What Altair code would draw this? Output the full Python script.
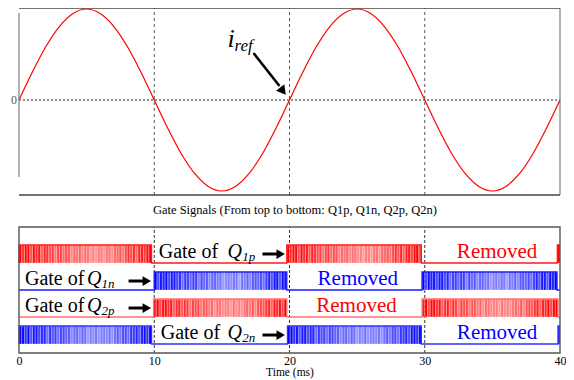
import altair as alt
import pandas as pd

# ---------------- data ----------------
# Top panel: reference current i_ref (normalised), one sample per ms
t_ms = list(range(41))
i_ref = [0.00, 0.31, 0.59, 0.81, 0.95, 1.00, 0.95, 0.81, 0.59, 0.31,
         0.00, -0.31, -0.59, -0.81, -0.95, -1.00, -0.95, -0.81, -0.59, -0.31,
         0.00, 0.31, 0.59, 0.81, 0.95, 1.00, 0.95, 0.81, 0.59, 0.31,
         0.00, -0.31, -0.59, -0.81, -0.95, -1.00, -0.95, -0.81, -0.59, -0.31, 0.00]

grid_x = [10, 20, 30]
tick_values = [0, 10, 20, 30, 40]

# Bottom panel: gate signals (top to bottom: Q1p, Q1n, Q2p, Q2n)
gate_names = ["Q1p", "Q1n", "Q2p", "Q2n"]
gate_rows = [3, 2, 1, 0]
gate_fill = ["#ff0000", "#0000ff", "#ff0000", "#0000ff"]
gate_edge = ["#ff1a1a", "#1a1aff", "#ff7070", "#3030ff"]
gate_on_start = [[0.0, 19.8, 39.8], [10.0, 29.8], [9.95, 29.8], [0.0, 19.85, 39.85]]
gate_on_end = [[9.8, 29.75, 40.0], [19.8, 39.78], [19.8, 39.85], [9.8, 29.75, 40.0]]
# darkness of the PWM texture across a 10 ms conducting block (25 slices)
pwm_shade = [1.0, 0.95, 0.95, 0.9, 0.85, 0.8, 0.75, 0.75, 0.7, 0.65, 0.6, 0.6, 0.55,
             0.5, 0.55, 0.5, 0.55, 0.6, 0.65, 0.7, 0.8, 0.85, 0.9, 0.95, 1.0]
# irregular stripe-to-stripe variation seen in the pulse texture
stripe_var = [1.0, 0.8, 1.0, 1.0, 0.7, 1.0, 0.9, 1.0, 0.75, 1.0, 1.0, 0.85, 1.0, 0.7, 0.95]

label_gate_x = [10.33, 0.44, 0.44, 10.48]
label_q_x = [15.42, 5.02, 5.02, 15.42]
label_sub_x = [16.5, 6.1, 6.1, 16.5]
label_sub = ["1p", "1n", "2p", "2n"]
arrow_x0 = [18.0, 8.1, 8.1, 18.0]
arrow_tip = [19.35, 9.45, 9.45, 19.35]
removed_x = [35.35, 25.05, 24.95, 35.35]

title_text = "Gate Signals (From top to bottom: Q1p, Q1n, Q2p, Q2n)"

# ---------------- scales ----------------
TOP_LO, TOP_HI = -1.044, 1.011
BOT_LO, BOT_HI = -0.333, 4.333
BAR_H = 0.667
SERIF = "Liberation Serif"

xaxis = alt.Axis(values=tick_values, format="d", ticks=False, domain=False, grid=False,
                 labelFlush=False, labelFont=SERIF, labelFontSize=12, labelColor="black",
                 labelPadding=2, title="Time (ms)", titleFont=SERIF, titleFontSize=11.5,
                 titleFontWeight="normal", titleColor="black", titlePadding=0.5)
xs = alt.Scale(domain=[0, 40], nice=False, zero=False)


def X(f):
    return alt.X(f, type="quantitative", scale=xs, axis=xaxis)


ys_top = alt.Scale(domain=[TOP_LO, TOP_HI], range=[187, 0], nice=False, zero=False)
ys_bot = alt.Scale(domain=[BOT_LO, BOT_HI], range=[345, 219], nice=False, zero=False)


def YT(f):
    return alt.Y(f, type="quantitative", scale=ys_top, axis=None)


def YB(f):
    return alt.Y(f, type="quantitative", scale=ys_bot, axis=None)


# ---------------- top panel ----------------
sine_df = pd.DataFrame({"t": t_ms, "i": i_ref})
sine = alt.Chart(sine_df).mark_line(color="#ff0000", strokeWidth=1.2, interpolate="monotone").encode(
    x=X("t"), y=YT("i"))

vgrid_top = alt.Chart(pd.DataFrame({"x": grid_x, "y0": [TOP_LO] * 3, "y1": [TOP_HI] * 3})).mark_rule(
    color="#555555", strokeWidth=1, strokeDash=[3, 3]).encode(x=X("x"), y=YT("y0"), y2="y1")

zero_line = alt.Chart(pd.DataFrame({"x0": [0], "x1": [40], "y": [0]})).mark_rule(
    color="#222222", strokeWidth=1.1, strokeDash=[2, 2]).encode(x=X("x0"), x2="x1", y=YT("y"))

hborders = alt.Chart(pd.DataFrame({"x0": [0, 0], "x1": [40, 40], "y": [TOP_HI, TOP_LO]})).mark_rule(
    color="#444444", strokeWidth=1.5).encode(x=X("x0"), x2="x1", y=YT("y"))

vborders = alt.Chart(pd.DataFrame({"x": [0, 40], "y0": [-0.846, TOP_LO], "y1": [0.956, TOP_HI]})).mark_rule(
    color="#a0a0a0", strokeWidth=1.6).encode(x=X("x"), y=YT("y0"), y2="y1")

zero_label = alt.Chart(pd.DataFrame({"x": [-0.37], "y": [0], "s": ["0"]})).mark_text(
    font=SERIF, fontSize=12, color="#555555", align="center", baseline="middle").encode(
    x=X("x"), y=YT("y"), text="s")

iref_i = alt.Chart(pd.DataFrame({"x": [15.42], "y": [0.582], "s": ["i"]})).mark_text(
    font=SERIF, fontSize=26, fontStyle="italic", color="black", align="left", baseline="alphabetic").encode(
    x=X("x"), y=YT("y"), text="s")
iref_sub = alt.Chart(pd.DataFrame({"x": [15.94], "y": [0.538], "s": ["ref"]})).mark_text(
    font=SERIF, fontSize=17, fontStyle="italic", color="black", align="left", baseline="alphabetic").encode(
    x=X("x"), y=YT("y"), text="s")
iref_shaft = alt.Chart(pd.DataFrame({"x0": [17.34], "x1": [19.26], "y0": [0.516], "y1": [0.154]})).mark_rule(
    color="black", strokeWidth=2.5).encode(x=X("x0"), x2="x1", y=YT("y0"), y2="y1")
iref_head = alt.Chart(pd.DataFrame({"x": [19.45], "y": [0.11]})).mark_point(
    shape="triangle", filled=True, color="black", opacity=1, size=110, angle=142).encode(
    x=X("x"), y=YT("y"))

top = alt.layer(vgrid_top, zero_line, vborders, hborders, sine, zero_label,
                iref_shaft, iref_head, iref_i, iref_sub)

# ---------------- bottom panel ----------------
stripe_rows = []
step_rows = []
for r, name in enumerate(gate_names):
    base = gate_rows[r]
    pts = [(0.0, base)]
    for s, e in zip(gate_on_start[r], gate_on_end[r]):
        n = max(1, round((e - s) / 0.2))
        w = (e - s) / n
        for k in range(n):
            idx = min(len(pwm_shade) - 1, int((k + 0.5) * w / 10.0 * len(pwm_shade)))
            sh = pwm_shade[idx] * stripe_var[(k + 3 * r) % len(stripe_var)]
            stripe_rows.append({"x0": s + k * w, "x1": s + (k + 1) * w, "y0": base,
                                "y1": base + BAR_H, "shade": sh, "c": gate_fill[r]})
        pts.append((s, base + BAR_H))
        pts.append((e, base) if e < 40 else (40.0, base + BAR_H))
    if pts[-1][0] < 40:
        pts.append((40.0, base))
    for t, lv in pts:
        step_rows.append({"t": t, "lv": lv, "row": name, "c": gate_edge[r]})

stripes = alt.Chart(pd.DataFrame(stripe_rows)).mark_rect(stroke="white", strokeWidth=0.3).encode(
    x=X("x0"), x2="x1", y=YB("y0"), y2="y1",
    color=alt.Color("c:N", scale=None),
    opacity=alt.Opacity("shade:Q", scale=None))

steps = alt.Chart(pd.DataFrame(step_rows)).mark_line(strokeWidth=1.3, interpolate="step-after").encode(
    x=X("t"), y=YB("lv"), detail="row:N", color=alt.Color("c:N", scale=None))

vgrid_bot = alt.Chart(pd.DataFrame({"x": grid_x, "y0": [BOT_LO] * 3, "y1": [BOT_HI] * 3})).mark_rule(
    color="#333333", strokeWidth=1, strokeDash=[3, 2]).encode(x=X("x"), y=YB("y0"), y2="y1")

box = alt.Chart(pd.DataFrame({"x0": [0], "x1": [40], "y0": [BOT_LO], "y1": [BOT_HI]})).mark_rect(
    fillOpacity=0, stroke="#555555", strokeWidth=1.4).encode(x=X("x0"), x2="x1", y=YB("y0"), y2="y1")

lab = pd.DataFrame({
    "gx": label_gate_x, "qx": label_q_x, "sx": label_sub_x, "sub": label_sub,
    "ax0": arrow_x0, "ax1": [a - 0.2 for a in arrow_tip], "tip": arrow_tip,
    "rx": removed_x, "c": gate_fill,
    "yt": [b + 0.185 for b in gate_rows], "ys": [b + 0.07 for b in gate_rows],
    "ya": [b + 0.333 for b in gate_rows],
    "g": ["Gate of"] * 4, "q": ["Q"] * 4, "rm": ["Removed"] * 4,
})

gate_txt = alt.Chart(lab).mark_text(font=SERIF, fontSize=20, color="black", align="left",
                                    baseline="alphabetic").encode(x=X("gx"), y=YB("yt"), text="g")
q_txt = alt.Chart(lab).mark_text(font=SERIF, fontSize=20, fontStyle="italic", color="black", align="left",
                                 baseline="alphabetic").encode(x=X("qx"), y=YB("yt"), text="q")
sub_txt = alt.Chart(lab).mark_text(font=SERIF, fontSize=13, fontStyle="italic", color="black", align="left",
                                   baseline="alphabetic").encode(x=X("sx"), y=YB("ys"), text="sub")
shafts = alt.Chart(lab).mark_rule(color="black", strokeWidth=3).encode(x=X("ax0"), x2="ax1", y=YB("ya"))
heads = alt.Chart(lab).mark_point(shape="triangle-right", filled=True, color="black", opacity=1,
                                  size=95).encode(x=X("tip"), y=YB("ya"))
removed = alt.Chart(lab).mark_text(font=SERIF, fontSize=21, align="center", baseline="alphabetic").encode(
    x=X("rx"), y=YB("yt"), text="rm", color=alt.Color("c:N", scale=None))

title_mark = alt.Chart(pd.DataFrame({"x": [20.4], "y": [4.96], "s": [title_text]})).mark_text(
    font=SERIF, fontSize=12.5, color="black", align="center", baseline="middle").encode(
    x=X("x"), y=YB("y"), text="s")

bottom = alt.layer(vgrid_bot, stripes, steps, box, gate_txt, q_txt, sub_txt, shafts, heads,
                   removed, title_mark)

chart = alt.layer(top, bottom).resolve_scale(y="independent").properties(
    width=541, height=345,
    autosize=alt.AutoSizeParams(type="none"),
    padding={"left": 11, "top": 0, "right": 6, "bottom": 27},
    background="white",
).configure_view(strokeWidth=0)

chart.save("out.html", embed_options={"renderer": "svg", "actions": False})
